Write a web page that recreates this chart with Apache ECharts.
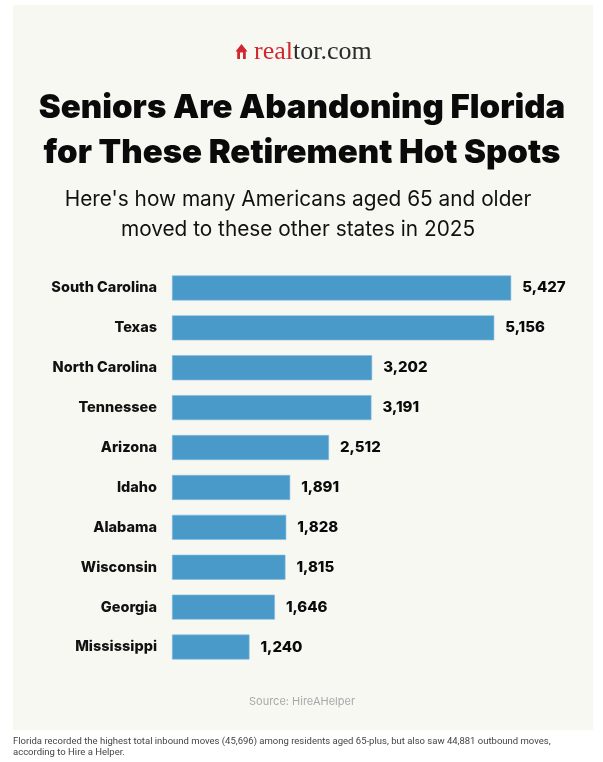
<!DOCTYPE html>
<html>
<head>
<meta charset="utf-8">
<script src="https://cdn.jsdelivr.net/npm/echarts@6/dist/echarts.min.js"></script>
<style>
  html, body { margin: 0; padding: 0; background: #ffffff; }
  #chart { width: 603px; height: 762px; }
</style>
</head>
<body>
<div id="chart"></div>
<script>
// data
var states = ['South Carolina', 'Texas', 'North Carolina', 'Tennessee', 'Arizona',
  'Idaho', 'Alabama', 'Wisconsin', 'Georgia', 'Mississippi'];
var movers = [5427, 5156, 3202, 3191, 2512, 1891, 1828, 1815, 1646, 1240];

var titleLines = ['Seniors Are Abandoning Florida', 'for These Retirement Hot Spots'];
var subtitleLines = ["Here's how many Americans aged 65 and older", 'moved to these other states in 2025'];
var sourceText = 'Source: HireAHelper';
var captionLines = [
  'Florida recorded the highest total inbound moves (45,696) among residents aged 65-plus, but also saw 44,881 outbound moves,',
  'according to Hire a Helper.'
];

var sans = 'Inter, "Noto Sans", sans-serif';

option = {
  backgroundColor: '#ffffff',
  animation: false,
  graphic: [
    { type: 'rect', z: -10, shape: { x: 13, y: 5, width: 580, height: 725 }, style: { fill: '#f8f8f3' } },
    // house icon
    { type: 'polygon', shape: { points: [[235.5, 51.5], [241.5, 44], [247.5, 51.5], [245.8, 51.5], [245.8, 59], [237.2, 59], [237.2, 51.5]] },
      style: { fill: '#d0282e' } },
    { type: 'rect', shape: { x: 240, y: 52.5, width: 3, height: 6.5 }, style: { fill: '#f8f8f3' } },
    { type: 'text', x: 254, y: 52, style: {
        text: '{a|real}{b|tor.com}',
        verticalAlign: 'middle',
        rich: {
          a: { fontFamily: '"Liberation Serif", serif', fontSize: 26, fill: '#d0282e' },
          b: { fontFamily: '"Liberation Serif", serif', fontSize: 26, fill: '#2b2b2b' }
        }
      } },
    { type: 'text', x: 302, y: 108, style: { text: titleLines[0], fontFamily: sans, fontWeight: 900,
        fontSize: 33, fill: '#0a0a0a', align: 'center', verticalAlign: 'middle' } },
    { type: 'text', x: 302, y: 153, style: { text: titleLines[1], fontFamily: sans, fontWeight: 900,
        fontSize: 33, fill: '#0a0a0a', align: 'center', verticalAlign: 'middle' } },
    { type: 'text', x: 298, y: 200, style: { text: subtitleLines[0], fontFamily: sans, fontWeight: 400,
        fontSize: 20.8, fill: '#111111', align: 'center', verticalAlign: 'middle' } },
    { type: 'text', x: 298, y: 230, style: { text: subtitleLines[1], fontFamily: sans, fontWeight: 400,
        fontSize: 20.8, fill: '#111111', align: 'center', verticalAlign: 'middle' } },
    { type: 'text', x: 302, y: 702, style: { text: sourceText, fontFamily: sans, fontSize: 11,
        fill: '#a8a8a8', align: 'center', verticalAlign: 'middle' } },
    { type: 'text', x: 13, y: 742, style: { text: captionLines[0], fontFamily: 'Roboto, sans-serif', fontSize: 9.5,
        fill: '#444444', verticalAlign: 'middle' } },
    { type: 'text', x: 13, y: 753, style: { text: captionLines[1], fontFamily: 'Roboto, sans-serif', fontSize: 9.5,
        fill: '#444444', verticalAlign: 'middle' } }
  ],
  grid: { left: 172, top: 268, height: 399, right: 56, containLabel: false },
  xAxis: { type: 'value', min: 0, max: 6000, show: false },
  yAxis: {
    type: 'category',
    data: states,
    inverse: true,
    axisLine: { show: false },
    axisTick: { show: false },
    axisLabel: { margin: 15, fontFamily: sans, fontWeight: 800, fontSize: 14.5, color: '#111111' }
  },
  series: [{
    type: 'bar',
    data: movers,
    barWidth: 25,
    itemStyle: { color: '#4a9ac9', borderColor: '#7fbbe0', borderWidth: 0.6 },
    label: {
      show: true,
      position: 'right',
      distance: 11,
      fontFamily: sans,
      fontWeight: 800,
      fontSize: 15,
      color: '#0a0a0a',
      formatter: function (p) { return p.value.toLocaleString('en-US'); }
    }
  }]
};

var chart = echarts.init(document.getElementById('chart'));
chart.setOption(option);
</script>
</body>
</html>
